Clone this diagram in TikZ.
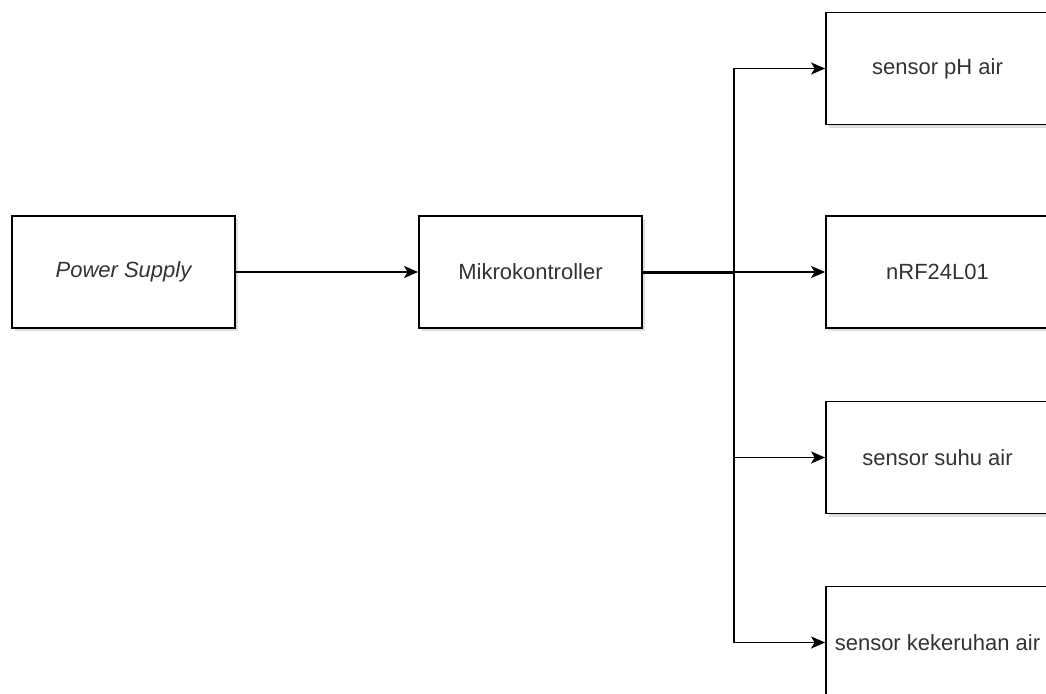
\documentclass[tikz,border=0pt]{standalone}
\usepackage{fontspec}
\setmainfont{Liberation Sans}
\usetikzlibrary{arrows.meta,shadows}
\definecolor{txt}{HTML}{333333}
\tikzset{
  blk/.style={draw=black, line width=1.8pt, fill=white, rectangle,
    minimum width=223pt, minimum height=112pt, inner sep=0pt,
    font=\fontsize{22}{26}\selectfont, text=txt,
    drop shadow={shadow xshift=2.5pt, shadow yshift=-3pt, fill=black!25, opacity=0.5}},
  arr/.style={line width=1.7pt, -{Stealth[length=14pt,width=12pt,inset=3.5pt]}},
  wire/.style={line width=1.7pt}
}
\begin{document}
\begin{tikzpicture}[x=1pt,y=-1pt]
\useasboundingbox (0,0) rectangle (1046,693);
\clip (0,0) rectangle (1046,693);
\node[blk] (ps) at (123.5,272) {\itshape Power Supply};
\node[blk] (mk) at (530.5,272) {Mikrokontroller};
\node[blk] (ph) at (937.5,68.5) {sensor pH air};
\node[blk] (nrf) at (937.5,272) {nRF24L01};
\node[blk] (suhu) at (937.5,457.5) {sensor suhu air};
\node[blk] (keruh) at (937.5,642.5) {sensor kekeruhan air};
\coordinate (bus) at (734,272);
\draw[arr] (ps.east) -- (mk.west);
\draw[wire, line width=3pt] (mk.east) -- (bus);
\draw[arr] (bus) |- (ph.west);
\draw[arr] (bus) -- (nrf.west);
\draw[arr] (bus) |- (suhu.west);
\draw[arr] (bus) |- (keruh.west);
\end{tikzpicture}
\end{document}
